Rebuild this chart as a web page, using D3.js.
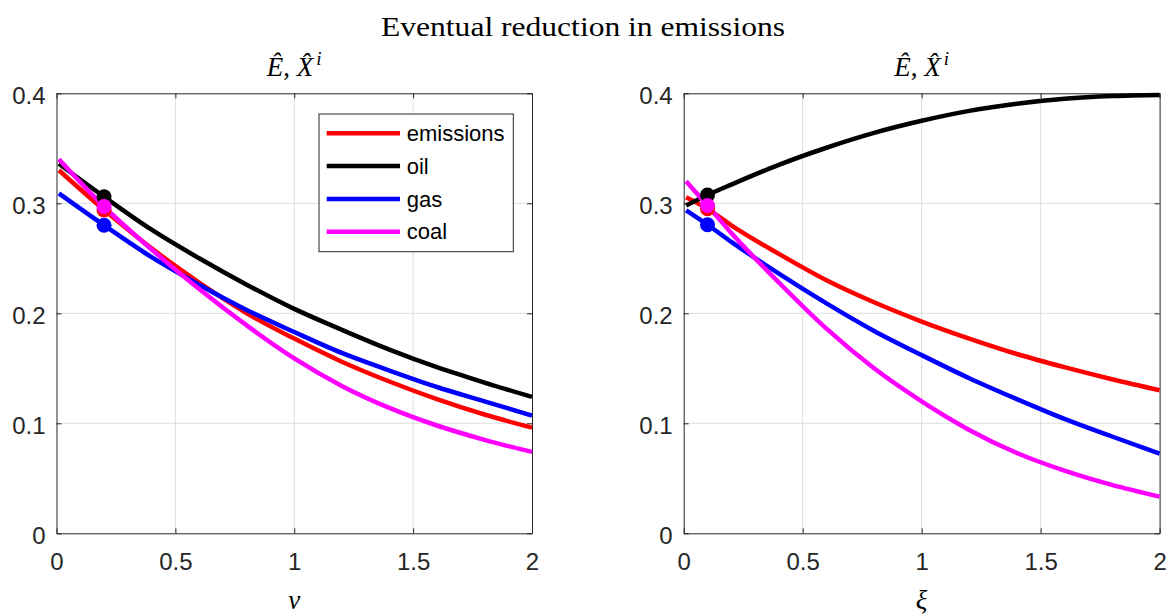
<!DOCTYPE html>
<html>
<head>
<meta charset="utf-8">
<script src="https://cdn.jsdelivr.net/npm/d3@7"></script>
<style>
  body { margin: 0; background: #fff; }
</style>
</head>
<body>
<div id="my_dataviz"></div>
<script>
// Values
const seriesNames = ["emissions", "oil", "gas", "coal"];
const seriesColors = ["#ff0000", "#000000", "#0000ff", "#ff00ff"];

const nuValues = [0.01, 0.2, 0.4, 0.6, 0.8, 1.0, 1.2, 1.4, 1.6, 1.8, 2.0];
const nuEmissions = [0.330, 0.294, 0.259, 0.228, 0.200, 0.177, 0.156, 0.138, 0.122, 0.108, 0.096];
const nuOil       = [0.336, 0.306, 0.276, 0.250, 0.226, 0.204, 0.185, 0.167, 0.151, 0.137, 0.124];
const nuGas       = [0.309, 0.280, 0.251, 0.226, 0.203, 0.183, 0.164, 0.148, 0.133, 0.120, 0.107];
const nuCoal      = [0.340, 0.297, 0.258, 0.222, 0.189, 0.159, 0.134, 0.114, 0.098, 0.085, 0.074];
const nuMarker = 0.2;

const xiValues = [0.01, 0.1, 0.2, 0.4, 0.6, 0.8, 1.0, 1.2, 1.4, 1.6, 1.8, 2.0];
const xiEmissions = [0.3055, 0.295, 0.280, 0.254, 0.230, 0.210, 0.1925, 0.177, 0.163, 0.151, 0.140, 0.130];
const xiOil       = [0.298, 0.3075, 0.317, 0.335, 0.3505, 0.364, 0.375, 0.384, 0.3905, 0.395, 0.3975, 0.3985];
const xiGas       = [0.2935, 0.2805, 0.265, 0.236, 0.209, 0.184, 0.162, 0.141, 0.122, 0.104, 0.088, 0.0725];
const xiCoal      = [0.320, 0.298, 0.273, 0.228, 0.186, 0.150, 0.120, 0.094, 0.073, 0.057, 0.044, 0.0333];
const xiMarker = 0.1;

const xTicks = [0, 0.5, 1, 1.5, 2];
const yTicks = [0, 0.1, 0.2, 0.3, 0.4];

const mainTitle = "Eventual reduction in emissions";

// Layout
const width = 1169, height = 615;
const plotTop = 93.3, plotBottom = 533.3;
const axisColor = "#262626";
const gridColor = "#dedede";

const svg = d3.select("#my_dataviz").append("svg")
    .attr("width", width)
    .attr("height", height)
    .style("display", "block");

svg.append("text")
    .attr("x", 583)
    .attr("y", 36)
    .attr("text-anchor", "middle")
    .attr("textLength", 404)
    .attr("lengthAdjust", "spacingAndGlyphs")
    .style("font-family", "'Liberation Serif', 'DejaVu Serif', serif")
    .style("font-size", "27px")
    .attr("fill", "#000")
    .text(mainTitle);

const panels = [
    { left: 56.5, right: 532, xs: nuValues, ys: [nuEmissions, nuOil, nuGas, nuCoal], marker: nuMarker, label: "\u03bd", legend: true },
    { left: 683.7, right: 1159.6, xs: xiValues, ys: [xiEmissions, xiOil, xiGas, xiCoal], marker: xiMarker, label: "\u03be", legend: false }
];

panels.forEach(function(p) {
    const x = d3.scaleLinear().domain([0, 2]).range([p.left, p.right]);
    const y = d3.scaleLinear().domain([0, 0.4]).range([plotBottom, plotTop]);
    const g = svg.append("g");

    // grid
    g.append("g").selectAll("line.gx")
        .data(xTicks.slice(1, -1))
        .join("line")
        .attr("x1", d => x(d)).attr("x2", d => x(d))
        .attr("y1", plotTop).attr("y2", plotBottom)
        .attr("stroke", gridColor).attr("stroke-width", 1);
    g.append("g").selectAll("line.gy")
        .data(yTicks.slice(1, -1))
        .join("line")
        .attr("x1", p.left).attr("x2", p.right)
        .attr("y1", d => y(d)).attr("y2", d => y(d))
        .attr("stroke", gridColor).attr("stroke-width", 1);

    // axes with inward ticks
    g.append("g")
        .attr("transform", "translate(0," + plotBottom + ")")
        .call(d3.axisBottom(x).tickValues(xTicks).tickFormat(d3.format("")).tickSize(-5).tickSizeOuter(0).tickPadding(20));
    const leftAxis = g.append("g")
        .attr("transform", "translate(" + p.left + ",0)")
        .call(d3.axisLeft(y).tickValues(yTicks).tickFormat(d3.format("")).tickSize(-5).tickSizeOuter(0).tickPadding(11));
    g.append("g")
        .attr("transform", "translate(0," + plotTop + ")")
        .call(d3.axisTop(x).tickValues(xTicks).tickFormat("").tickSize(-5).tickSizeOuter(0));
    g.append("g")
        .attr("transform", "translate(" + p.right + ",0)")
        .call(d3.axisRight(y).tickValues(yTicks).tickFormat("").tickSize(-5).tickSizeOuter(0));

    g.selectAll(".domain, .tick line").attr("stroke", axisColor).attr("stroke-width", 1);
    g.selectAll(".tick text")
        .attr("fill", axisColor)
        .style("font-family", "'Liberation Sans', Arial, sans-serif")
        .style("font-size", "24px");
    leftAxis.selectAll(".tick text").attr("dy", "0.42em");

    // lines
    const line = d3.line()
        .x(d => x(d[0]))
        .y(d => y(d[1]))
        .curve(d3.curveMonotoneX);

    p.ys.forEach(function(vals, i) {
        g.append("path")
            .datum(p.xs.map((v, j) => [v, vals[j]]))
            .attr("fill", "none")
            .attr("stroke", seriesColors[i])
            .attr("stroke-width", 4.5)
            .attr("d", line);
    });

    // markers at the base value
    const mi = p.xs.indexOf(p.marker);
    p.ys.forEach(function(vals, i) {
        g.append("circle")
            .attr("cx", x(p.xs[mi]))
            .attr("cy", y(vals[mi]))
            .attr("r", 7.5)
            .attr("fill", seriesColors[i]);
    });

    // panel title  \hat{E}, \hat{X}^i
    const cx = (p.left + p.right) / 2;
    const t = g.append("text")
        .attr("x", cx)
        .attr("y", 76)
        .attr("text-anchor", "middle")
        .style("font-family", "'Liberation Serif', 'DejaVu Serif', serif")
        .style("font-size", "27px")
        .attr("fill", "#000");
    t.append("tspan").style("font-style", "italic").text("\u00ca");
    t.append("tspan").text(", ");
    t.append("tspan").style("font-style", "italic").text("X\u0302");
    t.append("tspan").style("font-style", "italic").style("font-size", "19px").attr("dy", -11).attr("dx", 3).text("i");

    // x label
    g.append("text")
        .attr("x", cx)
        .attr("y", 609)
        .attr("text-anchor", "middle")
        .style("font-family", "'Liberation Serif', 'DejaVu Serif', serif")
        .style("font-style", "italic")
        .style("font-size", "27px")
        .attr("fill", "#000")
        .text(p.label);

    // legend
    if (p.legend) {
        const lx = p.right - 213, ly = plotTop + 20.7;
        const leg = g.append("g").attr("transform", "translate(" + lx + "," + ly + ")");
        leg.append("rect")
            .attr("width", 194.3).attr("height", 137.7)
            .attr("fill", "#fff")
            .attr("stroke", axisColor).attr("stroke-width", 1);
        seriesNames.forEach(function(name, i) {
            const ry = 19.3 + i * 32.8;
            leg.append("line")
                .attr("x1", 7.7).attr("x2", 81)
                .attr("y1", ry).attr("y2", ry)
                .attr("stroke", seriesColors[i]).attr("stroke-width", 4.5);
            leg.append("text")
                .attr("x", 87.7).attr("y", ry)
                .attr("dy", "0.35em")
                .style("font-family", "'Liberation Sans', Arial, sans-serif")
                .style("font-size", "22px")
                .attr("fill", "#000")
                .text(name);
        });
    }
});
</script>
</body>
</html>
